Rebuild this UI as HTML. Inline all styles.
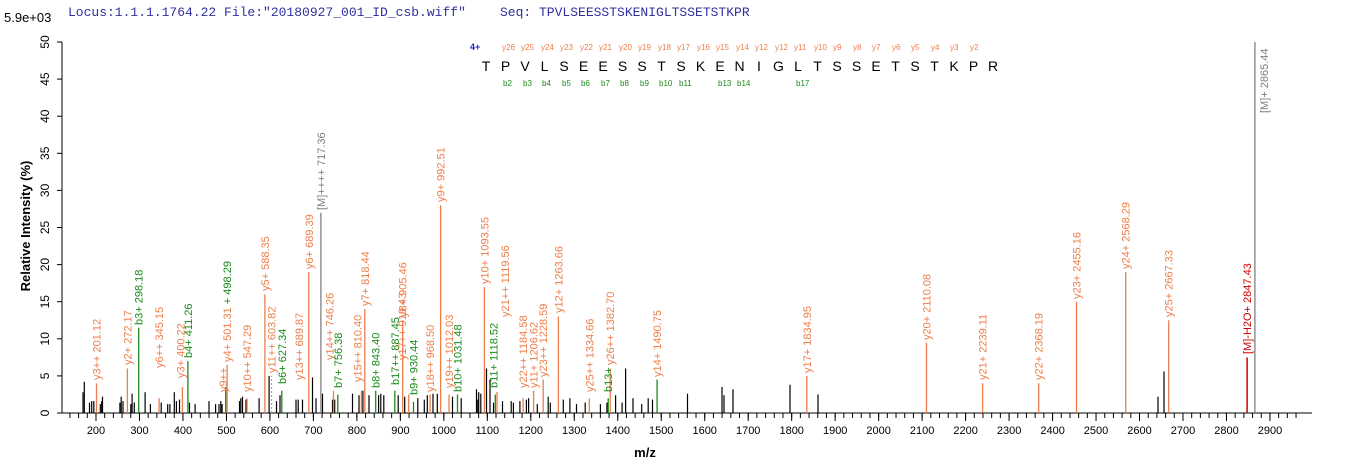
<!DOCTYPE html>
<html><head><meta charset="utf-8"><style>
body{margin:0;background:#fff;}
svg{display:block;font-family:"Liberation Sans",sans-serif;}
.o{stroke:#ee7e4a;stroke-width:1.3}
.g{stroke:#1a8a1a;stroke-width:1.3}
.k line{stroke:#000;stroke-width:1.2}
.lo{fill:#ee7e4a;font-size:11px}
.lg{fill:#1a8a1a;font-size:11px}
.yl{font-size:12px}
.xl{font-size:11px}
.sy{fill:#ee7e4a;font-size:8px}
.sb{fill:#1a8a1a;font-size:8px}
</style></head><body>
<svg width="1362" height="473" viewBox="0 0 1362 473" xmlns="http://www.w3.org/2000/svg">
<text x="68" y="16" font-family="Liberation Mono,monospace" font-size="13" fill="#3030a0">Locus:1.1.1.1764.22 File:"20180927_001_ID_csb.wiff"</text>
<text x="500" y="16" font-family="Liberation Mono,monospace" font-size="13" fill="#3030a0">Seq: TPVLSEESSTSKENIGLTSSETSTKPR</text>
<text x="4" y="22" font-size="13" fill="#000">5.9e+03</text>
<text transform="translate(30,226) rotate(-90)" text-anchor="middle" font-size="13" font-weight="bold">Relative   Intensity (%)</text>
<text x="645" y="457" text-anchor="middle" font-size="13" font-weight="bold">m/z</text>

<!-- axes -->
<line x1="62" y1="42" x2="62" y2="413" stroke="#000"/>
<line x1="62" y1="413" x2="1312" y2="413" stroke="#000"/>
<line x1="69.4" y1="415.5" x2="1300" y2="415.5" stroke="#000" stroke-width="5" stroke-dasharray="1 7.696"/>
<line x1="95.5" y1="417" x2="1280" y2="417" stroke="#000" stroke-width="8" stroke-dasharray="1 42.48"/>
<g stroke="#000">
<line x1="57" y1="413" x2="62" y2="413"/><line x1="57" y1="375.9" x2="62" y2="375.9"/><line x1="57" y1="338.8" x2="62" y2="338.8"/><line x1="57" y1="301.7" x2="62" y2="301.7"/><line x1="57" y1="264.6" x2="62" y2="264.6"/><line x1="57" y1="227.5" x2="62" y2="227.5"/><line x1="57" y1="190.4" x2="62" y2="190.4"/><line x1="57" y1="153.3" x2="62" y2="153.3"/><line x1="57" y1="116.2" x2="62" y2="116.2"/><line x1="57" y1="79.1" x2="62" y2="79.1"/><line x1="57" y1="42" x2="62" y2="42"/>
</g>
<g class="yl" text-anchor="middle">
<text transform="translate(49,413) rotate(-90)">0</text>
<text transform="translate(49,375.9) rotate(-90)">5</text>
<text transform="translate(49,338.8) rotate(-90)">10</text>
<text transform="translate(49,301.7) rotate(-90)">15</text>
<text transform="translate(49,264.6) rotate(-90)">20</text>
<text transform="translate(49,227.5) rotate(-90)">25</text>
<text transform="translate(49,190.4) rotate(-90)">30</text>
<text transform="translate(49,153.3) rotate(-90)">35</text>
<text transform="translate(49,116.2) rotate(-90)">40</text>
<text transform="translate(49,79.1) rotate(-90)">45</text>
<text transform="translate(49,42) rotate(-90)">50</text>
</g>
<g class="xl" text-anchor="middle">
<text x="96" y="434">200</text><text x="139.5" y="434">300</text><text x="183" y="434">400</text><text x="226.4" y="434">500</text><text x="269.9" y="434">600</text><text x="313.4" y="434">700</text><text x="356.9" y="434">800</text><text x="400.4" y="434">900</text><text x="443.8" y="434">1000</text><text x="487.3" y="434">1100</text><text x="530.8" y="434">1200</text><text x="574.3" y="434">1300</text><text x="617.8" y="434">1400</text><text x="661.2" y="434">1500</text><text x="704.7" y="434">1600</text><text x="748.2" y="434">1700</text><text x="791.7" y="434">1800</text><text x="835.2" y="434">1900</text><text x="878.6" y="434">2000</text><text x="922.1" y="434">2100</text><text x="965.6" y="434">2200</text><text x="1009.1" y="434">2300</text><text x="1052.6" y="434">2400</text><text x="1096" y="434">2500</text><text x="1139.5" y="434">2600</text><text x="1183" y="434">2700</text><text x="1226.5" y="434">2800</text><text x="1270" y="434">2900</text>
</g>

<!-- black peaks -->
<g class="k">
<line x1="83" y1="413" x2="83" y2="392.2"/><line x1="84.3" y1="413" x2="84.3" y2="381.8"/><line x1="89.5" y1="413" x2="89.5" y2="402.6"/><line x1="91.7" y1="413" x2="91.7" y2="401.1"/><line x1="93.8" y1="413" x2="93.8" y2="401.1"/><line x1="100.3" y1="413" x2="100.3" y2="404.1"/><line x1="101.7" y1="413" x2="101.7" y2="401.1"/><line x1="102.5" y1="413" x2="102.5" y2="396.7"/><line x1="119.9" y1="413" x2="119.9" y2="402.6"/><line x1="121.2" y1="413" x2="121.2" y2="396.7"/><line x1="123" y1="413" x2="123" y2="401.1"/><line x1="130.8" y1="413" x2="130.8" y2="404.1"/><line x1="132.1" y1="413" x2="132.1" y2="393.7"/><line x1="134.3" y1="413" x2="134.3" y2="402.6"/><line x1="145.1" y1="413" x2="145.1" y2="392.2"/><line x1="150.4" y1="413" x2="150.4" y2="404.1"/><line x1="161.2" y1="413" x2="161.2" y2="402.6"/><line x1="167.7" y1="413" x2="167.7" y2="404.1"/><line x1="169.9" y1="413" x2="169.9" y2="404.1"/><line x1="174.3" y1="413" x2="174.3" y2="392.2"/><line x1="176.4" y1="413" x2="176.4" y2="401.1"/><line x1="179.5" y1="413" x2="179.5" y2="399.6"/><line x1="189.5" y1="413" x2="189.5" y2="402.6"/><line x1="195.1" y1="413" x2="195.1" y2="404.1"/><line x1="209" y1="413" x2="209" y2="401.1"/><line x1="215.6" y1="413" x2="215.6" y2="404.1"/><line x1="219" y1="413" x2="219" y2="404.1"/><line x1="220.8" y1="413" x2="220.8" y2="401.1"/><line x1="222.1" y1="413" x2="222.1" y2="404.1"/><line x1="239.5" y1="413" x2="239.5" y2="401.1"/><line x1="240.8" y1="413" x2="240.8" y2="398.2"/><line x1="242.5" y1="413" x2="242.5" y2="396.7"/><line x1="246" y1="413" x2="246" y2="399.6"/><line x1="259.1" y1="413" x2="259.1" y2="398.2"/><line x1="269.1" y1="413" x2="269.1" y2="375.9"/><line x1="276.5" y1="413" x2="276.5" y2="401.1"/><line x1="280" y1="413" x2="280" y2="395.2"/><line x1="296" y1="413" x2="296" y2="399.6"/><line x1="298.2" y1="413" x2="298.2" y2="399.6"/><line x1="302.5" y1="413" x2="302.5" y2="399.6"/><line x1="312.5" y1="413" x2="312.5" y2="377.4"/><line x1="316" y1="413" x2="316" y2="398.2"/><line x1="322.5" y1="413" x2="322.5" y2="393.7"/><line x1="332.5" y1="413" x2="332.5" y2="399.6"/><line x1="334.7" y1="413" x2="334.7" y2="399.6"/><line x1="352.5" y1="413" x2="352.5" y2="393.7"/><line x1="359" y1="413" x2="359" y2="395.2"/><line x1="362.9" y1="413" x2="362.9" y2="390.7"/><line x1="369" y1="413" x2="369" y2="395.2"/><line x1="378.6" y1="413" x2="378.6" y2="395.2"/><line x1="380.8" y1="413" x2="380.8" y2="393.7"/><line x1="383.8" y1="413" x2="383.8" y2="395.2"/><line x1="398.2" y1="413" x2="398.2" y2="395.2"/><line x1="404.7" y1="413" x2="404.7" y2="396.7"/><line x1="417.8" y1="413" x2="417.8" y2="398.2"/><line x1="424.3" y1="413" x2="424.3" y2="399.6"/><line x1="427.3" y1="413" x2="427.3" y2="395.2"/><line x1="433" y1="413" x2="433" y2="393.7"/><line x1="437.3" y1="413" x2="437.3" y2="393.7"/><line x1="452.5" y1="413" x2="452.5" y2="396.7"/><line x1="461.2" y1="413" x2="461.2" y2="398.2"/><line x1="476.5" y1="413" x2="476.5" y2="389.3"/><line x1="477.8" y1="413" x2="477.8" y2="399.6"/><line x1="478.7" y1="413" x2="478.7" y2="392.2"/><line x1="480.8" y1="413" x2="480.8" y2="393.7"/><line x1="486.5" y1="413" x2="486.5" y2="368.5"/><line x1="490" y1="413" x2="490" y2="379.6"/><line x1="493.5" y1="413" x2="493.5" y2="402.6"/><line x1="502.5" y1="413" x2="502.5" y2="401.1"/><line x1="511.2" y1="413" x2="511.2" y2="401.1"/><line x1="513.4" y1="413" x2="513.4" y2="402.6"/><line x1="519.9" y1="413" x2="519.9" y2="401.1"/><line x1="526.4" y1="413" x2="526.4" y2="399.6"/><line x1="528.6" y1="413" x2="528.6" y2="398.2"/><line x1="537.3" y1="413" x2="537.3" y2="404.1"/><line x1="548.2" y1="413" x2="548.2" y2="396.7"/><line x1="550.3" y1="413" x2="550.3" y2="402.6"/><line x1="563.3" y1="413" x2="563.3" y2="399.6"/><line x1="569.9" y1="413" x2="569.9" y2="398.2"/><line x1="576.5" y1="413" x2="576.5" y2="404.1"/><line x1="585.2" y1="413" x2="585.2" y2="402.6"/><line x1="600.4" y1="413" x2="600.4" y2="404.1"/><line x1="606.9" y1="413" x2="606.9" y2="402.6"/><line x1="615.6" y1="413" x2="615.6" y2="395.2"/><line x1="622.1" y1="413" x2="622.1" y2="402.6"/><line x1="625.6" y1="413" x2="625.6" y2="368.5"/><line x1="633" y1="413" x2="633" y2="398.2"/><line x1="641.7" y1="413" x2="641.7" y2="404.1"/><line x1="648.2" y1="413" x2="648.2" y2="398.2"/><line x1="652.5" y1="413" x2="652.5" y2="399.6"/><line x1="687.5" y1="413" x2="687.5" y2="393.7"/><line x1="722" y1="413" x2="722" y2="387"/><line x1="724" y1="413" x2="724" y2="395.2"/><line x1="733" y1="413" x2="733" y2="389.3"/><line x1="790" y1="413" x2="790" y2="384.8"/><line x1="818" y1="413" x2="818" y2="394.5"/><line x1="1158" y1="413" x2="1158" y2="396.7"/><line x1="1164" y1="413" x2="1164" y2="371.4"/>
</g>

<!-- labelled peaks -->
<g>
<line class="o" x1="96.5" y1="413" x2="96.5" y2="383.3"/>
<line class="o" x1="127.4" y1="413" x2="127.4" y2="368.5"/>
<line class="g" x1="138.7" y1="413" x2="138.7" y2="327.7"/>
<line class="o" x1="159.1" y1="413" x2="159.1" y2="398.2"/>
<line class="o" x1="182.4" y1="413" x2="182.4" y2="387"/>
<line class="g" x1="187.9" y1="413" x2="187.9" y2="361.1"/>
<line class="g" x1="225.7" y1="413" x2="225.7" y2="387"/>
<line class="o" x1="227.1" y1="413" x2="227.1" y2="364.8"/>
<line class="o" x1="247" y1="413" x2="247" y2="398.2"/>
<line class="o" x1="264.9" y1="413" x2="264.9" y2="294.3"/>
<line x1="271.6" y1="413" x2="271.6" y2="375.9" stroke="#999" stroke-dasharray="2 2"/>
<line class="g" x1="281.8" y1="413" x2="281.8" y2="390.7"/>
<line class="o" x1="308.8" y1="413" x2="308.8" y2="272"/>
<line x1="320.9" y1="413" x2="320.9" y2="212.7" stroke="#808080" stroke-width="1.3"/>
<line class="o" x1="333.5" y1="413" x2="333.5" y2="390.7"/>
<line class="g" x1="337.8" y1="413" x2="337.8" y2="394.5"/>
<line class="o" x1="361.4" y1="413" x2="361.4" y2="390.7"/>
<line class="o" x1="364.8" y1="413" x2="364.8" y2="309.1"/>
<line class="g" x1="375.7" y1="413" x2="375.7" y2="390.7"/>
<line class="g" x1="394.8" y1="413" x2="394.8" y2="390.7"/>
<line class="o" x1="402.7" y1="413" x2="402.7" y2="320.3"/>
<line class="o" x1="408.7" y1="413" x2="408.7" y2="394.5"/>
<line class="g" x1="413.5" y1="413" x2="413.5" y2="401.9"/>
<line class="o" x1="430.1" y1="413" x2="430.1" y2="394.5"/>
<line class="o" x1="440.6" y1="413" x2="440.6" y2="205.2"/>
<line class="o" x1="449" y1="413" x2="449" y2="394.5"/>
<line class="g" x1="457.5" y1="413" x2="457.5" y2="394.5"/>
<line class="o" x1="484.4" y1="413" x2="484.4" y2="286.9"/>
<line class="g" x1="495.3" y1="413" x2="495.3" y2="394.5"/>
<line class="o" x1="497" y1="413" x2="497" y2="392.2"/>
<line class="o" x1="523.1" y1="413" x2="523.1" y2="398.2"/>
<line class="o" x1="533.6" y1="413" x2="533.6" y2="390.7"/>
<line class="o" x1="543.2" y1="413" x2="543.2" y2="379.6"/>
<line class="o" x1="558.4" y1="413" x2="558.4" y2="316.5"/>
<line class="o" x1="589.3" y1="413" x2="589.3" y2="398.2"/>
<line class="g" x1="608.2" y1="413" x2="608.2" y2="398.2"/>
<line class="o" x1="610.2" y1="413" x2="610.2" y2="368.5"/>
<line class="g" x1="657.1" y1="413" x2="657.1" y2="379.6"/>
<line class="o" x1="806.8" y1="413" x2="806.8" y2="375.9"/>
<line class="o" x1="926.5" y1="413" x2="926.5" y2="342.5"/>
<line class="o" x1="982.6" y1="413" x2="982.6" y2="383.3"/>
<line class="o" x1="1038.7" y1="413" x2="1038.7" y2="383.3"/>
<line class="o" x1="1076.5" y1="413" x2="1076.5" y2="301.7"/>
<line class="o" x1="1125.7" y1="413" x2="1125.7" y2="272"/>
<line class="o" x1="1168.7" y1="413" x2="1168.7" y2="320.3"/>
<line x1="1247.1" y1="413" x2="1247.1" y2="357.4" stroke="#d00000" stroke-width="1.5"/>
<line x1="1254.9" y1="413" x2="1254.9" y2="42" stroke="#808080" stroke-width="1.3"/>
</g>
<g>
<text class="lo" transform="translate(100.5,380) rotate(-90)">y3++ 201.12</text>
<text class="lo" transform="translate(131.4,365) rotate(-90)">y2+ 272.17</text>
<text class="lg" transform="translate(142.7,325) rotate(-90)">b3+ 298.18</text>
<text class="lo" transform="translate(163.1,368) rotate(-90)">y6++ 345.15</text>
<text class="lo" transform="translate(184.4,378) rotate(-90)">y3+ 400.22</text>
<text class="lg" transform="translate(191.9,358) rotate(-90)">b4+ 411.26</text>
<text class="lo" transform="translate(227,392) rotate(-90)">y9++</text>
<text class="lo" transform="translate(231.1,362) rotate(-90)">y4+ 501.31 <tspan fill="#1a8a1a">+ 498.29</tspan></text>
<text class="lo" transform="translate(251,392) rotate(-90)">y10++ 547.29</text>
<text class="lo" transform="translate(268.9,291) rotate(-90)">y5+ 588.35</text>
<text class="lo" transform="translate(275.6,373) rotate(-90)">y11++ 603.82</text>
<text class="lg" transform="translate(285.8,384) rotate(-90)">b6+ 627.34</text>
<text class="lo" transform="translate(312.8,269) rotate(-90)">y6+ 689.39</text>
<text class="lo" transform="translate(303,380) rotate(-90)">y13++ 689.87</text>
<text transform="translate(324.9,210) rotate(-90)" font-size="11" fill="#808080">[M]++++ 717.36</text>
<text class="lo" transform="translate(333.5,360) rotate(-90)">y14++ 746.26</text>
<text class="lg" transform="translate(341.8,388) rotate(-90)">b7+ 756.38</text>
<text class="lo" transform="translate(361.4,382) rotate(-90)">y15++ 810.40</text>
<text class="lo" transform="translate(368.8,306) rotate(-90)">y7+ 818.44</text>
<text class="lg" transform="translate(379.7,388) rotate(-90)">b8+ 843.40</text>
<text class="lg" transform="translate(398.8,385) rotate(-90)">b17++ 887.45</text>
<text class="lo" transform="translate(406.7,317) rotate(-90)">y8+ 905.46</text>
<text class="lo" transform="translate(406,360) rotate(-90)">y17++ 919.43</text>
<text class="lg" transform="translate(417.5,395) rotate(-90)">b9+ 930.44</text>
<text class="lo" transform="translate(434.1,392) rotate(-90)">y18++ 968.50</text>
<text class="lo" transform="translate(444.6,202) rotate(-90)">y9+ 992.51</text>
<text class="lo" transform="translate(453,388) rotate(-90)">y19++ 1012.03</text>
<text class="lg" transform="translate(461.5,392) rotate(-90)">b10+ 1031.48</text>
<text class="lo" transform="translate(488.4,284) rotate(-90)">y10+ 1093.55</text>
<text class="lg" transform="translate(497.3,388) rotate(-90)">b11+ 1118.52</text>
<text class="lo" transform="translate(509,317) rotate(-90)">y21++ 1119.56</text>
<text class="lo" transform="translate(527.1,388) rotate(-90)">y22++ 1184.58</text>
<text class="lo" transform="translate(537.6,388) rotate(-90)">y11+ 1206.62</text>
<text class="lo" transform="translate(547.2,377) rotate(-90)">y23++ 1228.59</text>
<text class="lo" transform="translate(562.4,313) rotate(-90)">y12+ 1263.66</text>
<text class="lo" transform="translate(593.3,392) rotate(-90)">y25++ 1334.66</text>
<text class="lg" transform="translate(612.2,392) rotate(-90)">b13+</text>
<text class="lo" transform="translate(614.2,365) rotate(-90)">y26++ 1382.70</text>
<text class="lo" transform="translate(661.1,377) rotate(-90)">y14+ 1490.75</text>
<text class="lo" transform="translate(810.8,373) rotate(-90)">y17+ 1834.95</text>
<text class="lo" transform="translate(930.5,340) rotate(-90)">y20+ 2110.08</text>
<text class="lo" transform="translate(986.6,380) rotate(-90)">y21+ 2239.11</text>
<text class="lo" transform="translate(1042.7,380) rotate(-90)">y22+ 2368.19</text>
<text class="lo" transform="translate(1080.5,299) rotate(-90)">y23+ 2455.16</text>
<text class="lo" transform="translate(1129.7,269) rotate(-90)">y24+ 2568.29</text>
<text class="lo" transform="translate(1172.7,317) rotate(-90)">y25+ 2667.33</text>
<text transform="translate(1251.1,354) rotate(-90)" font-size="11" fill="#d00000">[M]-H2O+ 2847.43</text>
<text transform="translate(1268,113) rotate(-90)" font-size="11" fill="#808080">[M]+ 2865.44</text>
</g>

<!-- sequence -->
<text x="470" y="50" font-size="9" font-weight="bold" fill="#2020d0">4+</text>
<text y="71" font-size="14" text-anchor="middle" x="486 505.5 525 544.5 564 583.5 603 622.5 642 661.5 681 700.5 720 739.5 759 778.5 798 817.5 837 856.5 876 895.5 915 934.5 954 973.5 993">TPVLSEESSTSKENIGLTSSETSTKPR</text>
<g class="sy">
<text x="502" y="50">y26</text><text x="521" y="50">y25</text><text x="541" y="50">y24</text><text x="560" y="50">y23</text><text x="580" y="50">y22</text><text x="599" y="50">y21</text><text x="619" y="50">y20</text><text x="638" y="50">y19</text><text x="658" y="50">y18</text><text x="677" y="50">y17</text><text x="697" y="50">y16</text><text x="716" y="50">y15</text><text x="736" y="50">y14</text><text x="755" y="50">y12</text><text x="775" y="50">y12</text><text x="794" y="50">y11</text><text x="814" y="50">y10</text><text x="833" y="50">y9</text><text x="853" y="50">y8</text><text x="872" y="50">y7</text><text x="892" y="50">y6</text><text x="911" y="50">y5</text><text x="931" y="50">y4</text><text x="950" y="50">y3</text><text x="970" y="50">y2</text>
</g>
<g class="sb">
<text x="503" y="86">b2</text><text x="523" y="86">b3</text><text x="542" y="86">b4</text><text x="562" y="86">b5</text><text x="581" y="86">b6</text><text x="601" y="86">b7</text><text x="620" y="86">b8</text><text x="640" y="86">b9</text><text x="659" y="86">b10</text><text x="679" y="86">b11</text><text x="718" y="86">b13</text><text x="737" y="86">b14</text><text x="796" y="86">b17</text>
</g>
</svg>
</body></html>
